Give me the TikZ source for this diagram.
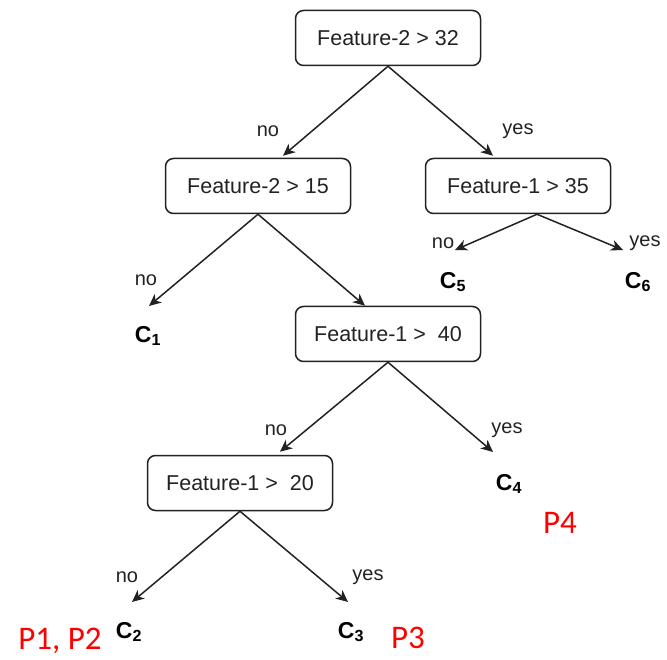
\documentclass[tikz,border=0pt]{standalone}
\usepackage{fontspec}
\setmainfont{Liberation Sans}
\newfontfamily\redfont{Carlito}
\usetikzlibrary{arrows.meta}
\definecolor{ln}{HTML}{222222}
\tikzset{
  box/.style={draw=ln, line width=1.5pt, rounded corners=8pt, minimum width=185pt, minimum height=55pt, inner sep=0pt, font=\fontsize{21.5}{24}\selectfont, text=ln},
  arr/.style={draw=ln, line width=1.5pt, -{Stealth[length=12pt,width=11pt,inset=3.5pt]}},
  lbl/.style={font=\fontsize{20}{24}\selectfont, text=ln, inner sep=0pt},
  leaf/.style={font=\fontsize{23}{26}\selectfont\bfseries, text=black, inner sep=0pt},
  red/.style={font=\redfont\fontsize{33}{36}\selectfont, text=red, inner sep=0pt}
}
\begin{document}
\begin{tikzpicture}[x=1pt,y=-1pt]
\useasboundingbox (0,0) rectangle (667,660);
\node[box] (n1) at (388,38) {Feature-2 > 32};
\node[box] (n2) at (258,186) {Feature-2 > 15};
\node[box] (n3) at (518,186) {Feature-1 > 35};
\node[box] (n4) at (388,334) {Feature-1 >\ \ 40};
\node[box] (n5) at (240,483) {Feature-1 >\ \ 20};
% leaves
\node[leaf] (c1) at (148,336) {C$_{\mathbf 1}$};
\node[leaf] (c5) at (453,282) {C$_{\mathbf 5}$};
\node[leaf] (c6) at (638,282) {C$_{\mathbf 6}$};
\node[leaf] (c4) at (509,484) {C$_{\mathbf 4}$};
\node[leaf] (c2) at (129,632) {C$_{\mathbf 2}$};
\node[leaf] (c3) at (351,632) {C$_{\mathbf 3}$};
% tips
\coordinate (t1) at (149,306);
\coordinate (t5) at (455,250);
\coordinate (t6) at (623,250);
\coordinate (t4) at (493,452);
\coordinate (t2) at (132,602);
\coordinate (t3) at (348,602);
% arrows
\draw[arr] (n1.south) -- ([xshift=25pt,yshift=2pt]n2.north);
\draw[arr] (n1.south) -- ([xshift=-25pt,yshift=2pt]n3.north);
\draw[arr] (n2.south) -- (t1);
\draw[arr] (n2.south) -- ([xshift=-23pt]n4.north);
\draw[arr] ([xshift=19pt]n3.south) -- (t5);
\draw[arr] ([xshift=19pt]n3.south) -- (t6);
\draw[arr] (n4.south) -- ([xshift=40pt,yshift=3pt]n5.north);
\draw[arr] (n4.south) -- (t4);
\draw[arr] (n5.south) -- (t2);
\draw[arr] (n5.south) -- (t3);
% labels
\node[lbl] (l1) at (268,131) {no};
\node[lbl] (l2) at (518,131) {yes};
\node[lbl] (l3) at (146,280) {no};
\node[lbl] (l4) at (443,243) {no};
\node[lbl] (l5) at (645,243) {yes};
\node[lbl] (l6) at (276,430) {no};
\node[lbl] (l7) at (507,430) {yes};
\node[lbl] (l8) at (127,577) {no};
\node[lbl] (l9) at (368,577) {yes};
% red
\node[red] (p12) at (60,641) {P1, P2};
\node[red] (p3) at (408,638) {P3};
\node[red] (p4) at (560,523) {P4};
\end{tikzpicture}
\end{document}
